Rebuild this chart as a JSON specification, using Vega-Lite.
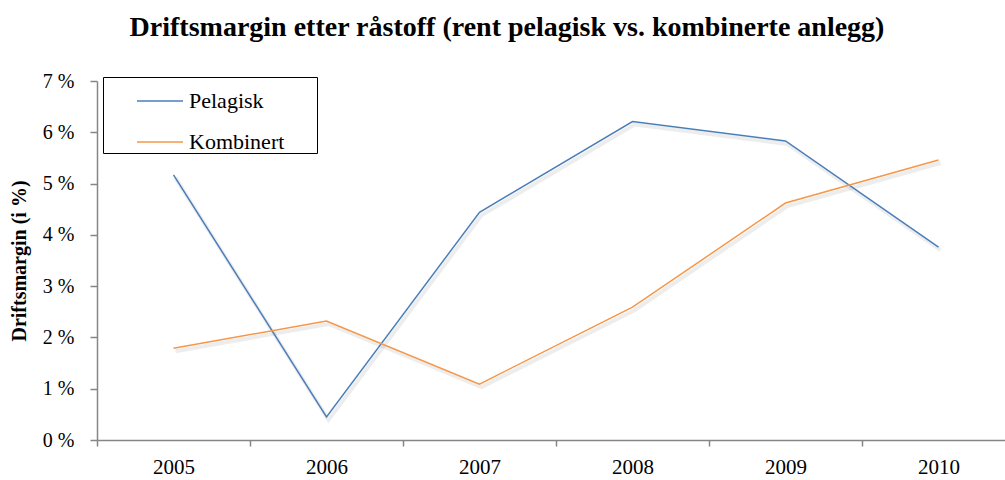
{
  "$schema": "https://vega.github.io/schema/vega-lite/v6.json",
  "autosize": "none",
  "width": 908,
  "height": 359,
  "padding": {"left": 97, "top": 81, "right": 0, "bottom": 40},
  "background": "white",
  "config": {
    "font": "Liberation Serif",
    "view": {"stroke": null}
  },
  "title": {
    "text": "Driftsmargin etter råstoff (rent pelagisk vs. kombinerte anlegg)",
    "font": "Liberation Serif",
    "fontSize": 28,
    "fontWeight": "bold",
    "color": "black",
    "anchor": "middle",
    "frame": "group",
    "dx": -44,
    "offset": 29
  },
  "data": {
    "values": [
      {"year": "2005", "series": "Pelagisk", "value": 0.0517},
      {"year": "2006", "series": "Pelagisk", "value": 0.0045},
      {"year": "2007", "series": "Pelagisk", "value": 0.0444},
      {"year": "2008", "series": "Pelagisk", "value": 0.0621},
      {"year": "2009", "series": "Pelagisk", "value": 0.0583},
      {"year": "2010", "series": "Pelagisk", "value": 0.0376},
      {"year": "2005", "series": "Kombinert", "value": 0.0179},
      {"year": "2006", "series": "Kombinert", "value": 0.0232},
      {"year": "2007", "series": "Kombinert", "value": 0.0109},
      {"year": "2008", "series": "Kombinert", "value": 0.0259},
      {"year": "2009", "series": "Kombinert", "value": 0.0462},
      {"year": "2010", "series": "Kombinert", "value": 0.0546}
    ]
  },
  "encoding": {
    "x": {
      "field": "year",
      "type": "ordinal",
      "scale": {"type": "band", "range": [0, 918], "paddingInner": 0, "paddingOuter": 0},
      "axis": {
        "title": null,
        "labelAngle": 0,
        "labelFont": "Liberation Serif",
        "labelFontSize": 21,
        "labelColor": "black",
        "labelPadding": 10,
        "tickBand": "extent",
        "tickSize": 6,
        "tickColor": "#868686",
        "domainColor": "#868686",
        "domainWidth": 1.5,
        "tickWidth": 1.5,
        "grid": false
      }
    },
    "y": {
      "field": "value",
      "type": "quantitative",
      "scale": {"domain": [0, 0.07], "nice": false},
      "axis": {
        "title": "Driftsmargin (i %)",
        "titleFont": "Liberation Serif",
        "titleFontSize": 20,
        "titleFontWeight": "bold",
        "titleColor": "black",
        "titlePadding": 13,
        "values": [0, 0.01, 0.02, 0.03, 0.04, 0.05, 0.06, 0.07],
        "labelExpr": "format(datum.value * 100, 'd') + ' %'",
        "labelFont": "Liberation Serif",
        "labelFontSize": 20,
        "labelColor": "black",
        "labelPadding": 16,
        "tickSize": 7,
        "tickColor": "#868686",
        "domainColor": "#868686",
        "domainWidth": 1.5,
        "tickWidth": 1.5,
        "grid": false
      }
    }
  },
  "layer": [
    {
      "mark": {"type": "line", "strokeWidth": 4, "color": "black", "opacity": 0.07, "xOffset": 2, "yOffset": 3},
      "encoding": {
        "detail": {"field": "series", "type": "nominal"}
      }
    },
    {
      "mark": {"type": "line", "strokeWidth": 1.5},
      "encoding": {
        "color": {
          "field": "series",
          "type": "nominal",
          "sort": ["Pelagisk", "Kombinert"],
          "scale": {"domain": ["Pelagisk", "Kombinert"], "range": ["#4a7ebb", "#f79646"]},
          "legend": {
            "title": null,
            "orient": "none",
            "legendX": 6,
            "legendY": -4,
            "direction": "vertical",
            "fillColor": "white",
            "strokeColor": "black",
            "padding": 0,
            "symbolType": "stroke",
            "symbolSize": 2116,
            "symbolStrokeWidth": 1.5,
            "symbolOffset": 33,
            "labelFont": "Liberation Serif",
            "labelFontSize": 22,
            "labelColor": "black",
            "labelOffset": 5,
            "labelExpr": "datum.label + '\u2800\u2800'",
            "rowPadding": 6
          }
        }
      }
    }
  ]
}
